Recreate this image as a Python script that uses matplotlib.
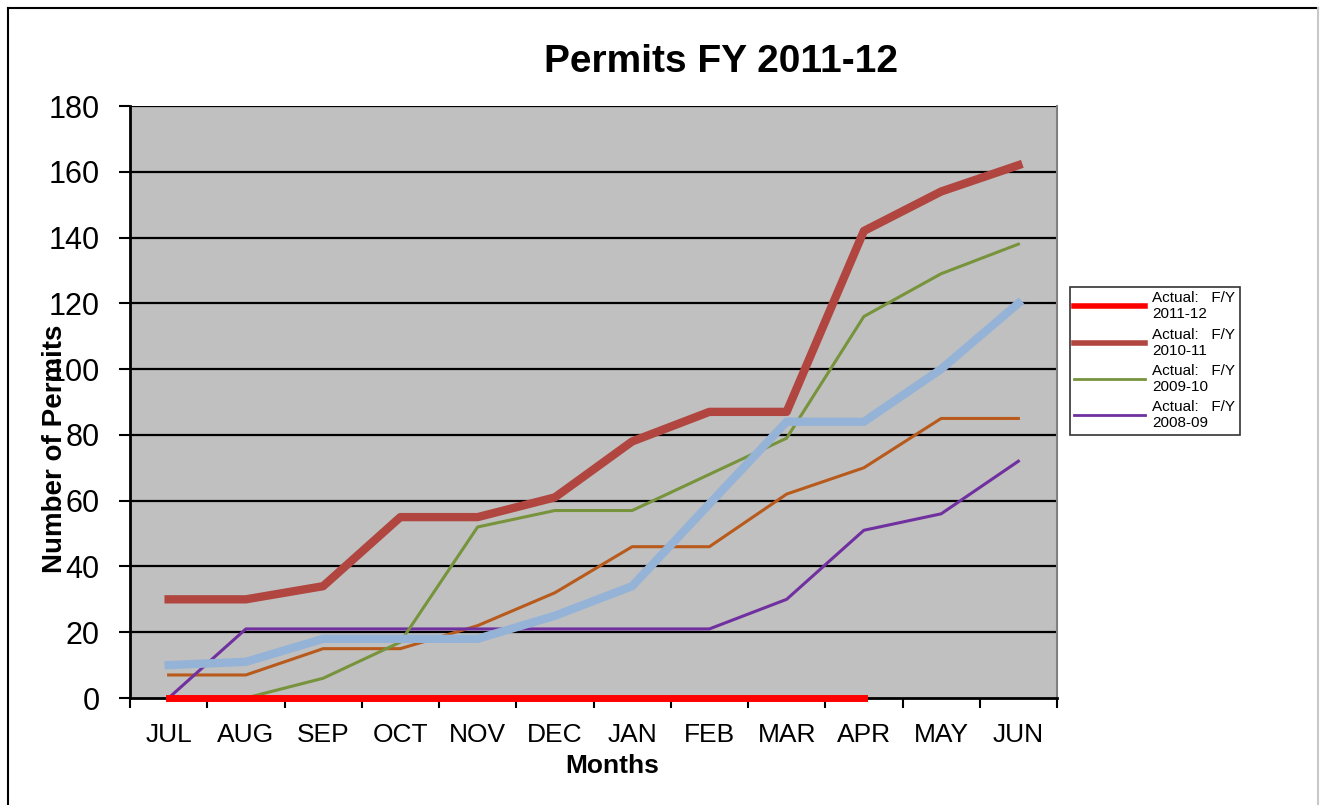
import matplotlib
matplotlib.use("Agg")
import matplotlib.pyplot as plt
from matplotlib.lines import Line2D

plt.rcParams['font.family'] = ['Liberation Sans', 'DejaVu Sans']

months = ["JUL", "AUG", "SEP", "OCT", "NOV", "DEC", "JAN", "FEB", "MAR", "APR", "MAY", "JUN"]
fy_2011_12 = [0, 0, 0, 0, 0, 0, 0, 0, 0, 0]
fy_2010_11 = [30, 30, 34, 55, 55, 61, 78, 87, 87, 142, 154, 162]
fy_2009_10 = [0, 0, 6, 17, 52, 57, 57, 68, 79, 116, 129, 138]
fy_2008_09 = [0, 21, 21, 21, 21, 21, 21, 21, 30, 51, 56, 72]
fy_orange = [7, 7, 15, 15, 22, 32, 46, 46, 62, 70, 85, 85]
fy_blue = [10, 11, 18, 18, 18, 25, 34, 59, 84, 84, 100, 120]
y_ticks = list(range(0, 181, 20))

fig = plt.figure(figsize=(13.23, 8.05), dpi=100)
ax = fig.add_axes([130/1323, 1-698/805, 927/1323, 592/805])
ax.set_facecolor("#C0C0C0")

x = list(range(len(months)))
for v in y_ticks[1:]:
    ax.axhline(v, color="black", lw=1.6, zorder=1)

ax.plot(x, fy_orange, color="#B85A1C", lw=2.2, zorder=3)
ax.plot(x, fy_2008_09, color="#7030A0", lw=2.2, zorder=3)
ax.plot(x, fy_2009_10, color="#77933C", lw=2.2, zorder=3)
ax.plot(x, fy_blue, color="#95B3D7", lw=6, zorder=4)
ax.plot(x, fy_2010_11, color="#B0463F", lw=6, zorder=5)
ax.plot(x[:len(fy_2011_12)], fy_2011_12, color="#FF0000", lw=5, zorder=6, clip_on=False)

ax.set_xlim(-0.5, 11.5)
ax.set_ylim(0, 180)
ax.set_yticks(y_ticks)
ax.set_yticklabels([str(v) for v in y_ticks], fontsize=22)
ax.set_xticks([i + 0.5 for i in range(-1, 12)])
ax.set_xticklabels([])
ax.set_xticks(x, minor=True)
ax.set_xticklabels(months, minor=True, fontsize=19)
ax.tick_params(axis="x", which="minor", length=0, pad=18)
ax.tick_params(axis="x", which="major", length=7, width=1.5, direction="out")
ax.tick_params(axis="y", length=8, width=1.5, direction="out", pad=14)

ax.spines["top"].set_visible(False)
ax.spines["right"].set_color("#808080")
ax.spines["right"].set_linewidth(1.5)
ax.spines["left"].set_linewidth(2)
ax.spines["bottom"].set_linewidth(2)

fig.text(0.545, 1-62/805, "Permits FY 2011-12", ha="center", va="center",
         fontsize=28, fontweight="bold")
fig.text(612/1323, 1-766/805, "Months", ha="center", va="center", fontsize=19, fontweight="bold")
fig.text(55/1323, 1-449/805, "Number of Permits", ha="center", va="center",
         rotation=90, fontsize=20, fontweight="bold")

handles = [
    Line2D([], [], color="#FF0000", lw=4),
    Line2D([], [], color="#B0463F", lw=4),
    Line2D([], [], color="#77933C", lw=2),
    Line2D([], [], color="#7030A0", lw=2),
]
labels = ["Actual:   F/Y\n2011-12", "Actual:   F/Y\n2010-11",
          "Actual:   F/Y\n2009-10", "Actual:   F/Y\n2008-09"]
leg = fig.legend(handles, labels, loc="upper left", bbox_to_anchor=(1062/1323, 1-279/805),
                 fontsize=11, frameon=True, fancybox=False, edgecolor="black",
                 handlelength=4.6, labelspacing=0.4, borderpad=0.3, handletextpad=0.5)
leg.get_frame().set_linewidth(1.2)

# outer frame
fig.add_artist(Line2D([8/1323, 1318/1323], [1-8/805, 1-8/805], color="black", lw=1.5))
fig.add_artist(Line2D([8/1323, 8/1323], [0, 1-8/805], color="black", lw=1.5))
fig.add_artist(Line2D([1318/1323, 1318/1323], [0, 1-8/805], color="#C8C8C8", lw=1.5))

fig.savefig("out.png", dpi=100)
